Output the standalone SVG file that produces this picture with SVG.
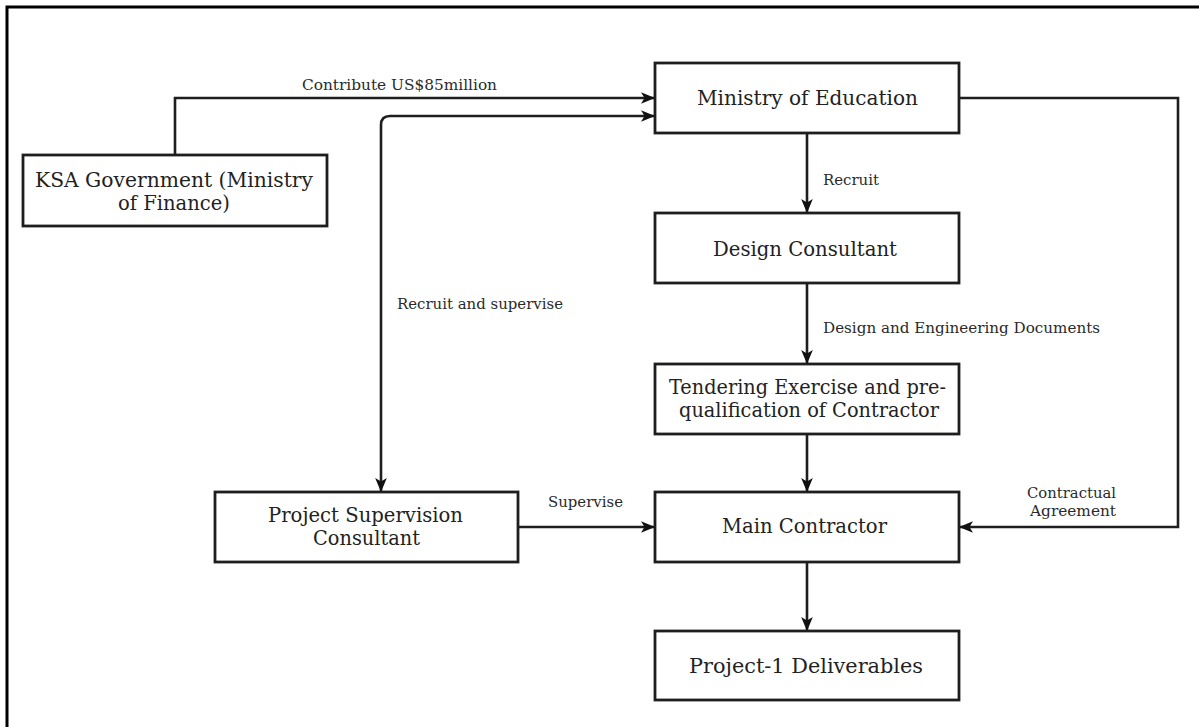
<svg xmlns="http://www.w3.org/2000/svg" width="1199" height="727" viewBox="0 0 1199 727">
  <style>
    .box { fill: #ffffff; stroke: #1e1e1e; stroke-width: 2.8; }
    .node-text { font-family: "DejaVu Serif", "Liberation Serif", serif; font-size: 19.5px; fill: #222222; text-anchor: middle; }
    .label { font-family: "DejaVu Serif", "Liberation Serif", serif; font-size: 15px; fill: #2a2a2a; }
    .edge { fill: none; stroke: #1e1e1e; stroke-width: 2.6; }
    .frame { stroke: #000000; stroke-width: 3; fill: none; }
  </style>
  <defs>
    <marker id="arrow" viewBox="0 0 12 10" refX="12" refY="5" markerWidth="14" markerHeight="12" markerUnits="userSpaceOnUse" orient="auto-start-reverse">
      <path d="M0,0 L12,5 L0,10 L3,5 z" fill="#111111"/>
    </marker>
  </defs>

  <rect width="1199" height="727" fill="#ffffff"/>
  <!-- outer frame: top and left edges -->
  <path class="frame" d="M7,727 L7,7 L1199,7"/>

  <!-- connectors -->
  <g id="connectors">
    <path class="edge" d="M175,155 L175,98 L655,98" marker-end="url(#arrow)"/>
    <path class="edge" d="M655,116 L390,116 Q381,116 381,125 L381,492" marker-start="url(#arrow)" marker-end="url(#arrow)"/>
    <path class="edge" d="M807,133 L807,213" marker-end="url(#arrow)"/>
    <path class="edge" d="M807,283 L807,364" marker-end="url(#arrow)"/>
    <path class="edge" d="M807,434 L807,492" marker-end="url(#arrow)"/>
    <path class="edge" d="M807,562 L807,631" marker-end="url(#arrow)"/>
    <path class="edge" d="M518,527 L655,527" marker-end="url(#arrow)"/>
    <path class="edge" d="M959,98 L1178,98 L1178,527 L959,527" marker-end="url(#arrow)"/>

    <text class="label" x="399.5" y="90" text-anchor="middle" textLength="195" lengthAdjust="spacingAndGlyphs">Contribute US$85million</text>
    <text class="label" x="823" y="185" textLength="56" lengthAdjust="spacingAndGlyphs">Recruit</text>
    <text class="label" x="823" y="333" textLength="277" lengthAdjust="spacingAndGlyphs">Design and Engineering Documents</text>
    <text class="label" x="397" y="309" textLength="166" lengthAdjust="spacingAndGlyphs">Recruit and supervise</text>
    <text class="label" x="548" y="507" textLength="75" lengthAdjust="spacingAndGlyphs">Supervise</text>
    <text class="label" x="1071.5" y="498" text-anchor="middle" textLength="89" lengthAdjust="spacingAndGlyphs">Contractual</text>
    <text class="label" x="1073" y="516" text-anchor="middle" textLength="86" lengthAdjust="spacingAndGlyphs">Agreement</text>
  </g>

  <!-- nodes -->
  <g id="ministry-of-education">
    <rect class="box" x="655" y="63" width="304" height="70"/>
    <text class="node-text" x="807.5" y="105" textLength="221" lengthAdjust="spacingAndGlyphs">Ministry of Education</text>
  </g>
  <g id="ksa-government">
    <rect class="box" x="23" y="155" width="304" height="71"/>
    <text class="node-text" x="174" y="187" textLength="278" lengthAdjust="spacingAndGlyphs">KSA Government (Ministry</text>
    <text class="node-text" x="174" y="210" textLength="112" lengthAdjust="spacingAndGlyphs">of Finance)</text>
  </g>
  <g id="design-consultant">
    <rect class="box" x="655" y="213" width="304" height="70"/>
    <text class="node-text" x="805" y="256" textLength="184" lengthAdjust="spacingAndGlyphs">Design Consultant</text>
  </g>
  <g id="tendering">
    <rect class="box" x="655" y="364" width="304" height="70"/>
    <text class="node-text" x="807.5" y="394" textLength="277" lengthAdjust="spacingAndGlyphs">Tendering Exercise and pre-</text>
    <text class="node-text" x="809" y="417" textLength="260" lengthAdjust="spacingAndGlyphs">qualification of Contractor</text>
  </g>
  <g id="main-contractor">
    <rect class="box" x="655" y="492" width="304" height="70"/>
    <text class="node-text" x="804.5" y="533" textLength="165" lengthAdjust="spacingAndGlyphs">Main Contractor</text>
  </g>
  <g id="project-supervision-consultant">
    <rect class="box" x="215" y="492" width="303" height="70"/>
    <text class="node-text" x="365.5" y="522" textLength="195" lengthAdjust="spacingAndGlyphs">Project Supervision</text>
    <text class="node-text" x="366.5" y="545" textLength="107" lengthAdjust="spacingAndGlyphs">Consultant</text>
  </g>
  <g id="project-deliverables">
    <rect class="box" x="655" y="631" width="304" height="69"/>
    <text class="node-text" x="806" y="673" textLength="234" lengthAdjust="spacingAndGlyphs">Project-1 Deliverables</text>
  </g>
</svg>
